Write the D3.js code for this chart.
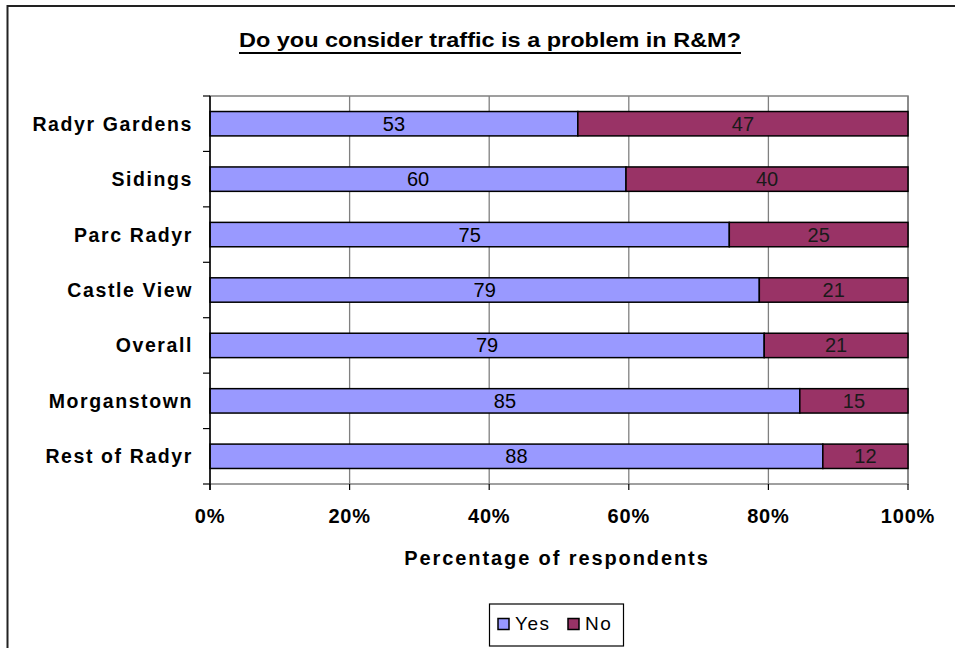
<!DOCTYPE html>
<html><head><meta charset="utf-8">
<script src="https://cdn.jsdelivr.net/npm/d3@7"></script>
<style>body{margin:0;background:#fff}svg{display:block}</style>
</head><body>
<script>
const categories = ["Radyr Gardens","Sidings","Parc Radyr","Castle View","Overall","Morganstown","Rest of Radyr"];
const yesValues = [52.7, 59.6, 74.4, 78.7, 79.4, 84.5, 87.8];
const noValues  = [47.3, 40.4, 25.6, 21.3, 20.6, 15.5, 12.2];
const yesLabels = [53, 60, 75, 79, 79, 85, 88];
const noLabels  = [47, 40, 25, 21, 21, 15, 12];
const xTicks = [0, 20, 40, 60, 80, 100];
const seriesNames = ["Yes","No"];
const colors = ["#9999FF","#993366"];

const W = 955, H = 648;
const svg = d3.select("body").append("svg").attr("width", W).attr("height", H);
svg.append("rect").attr("width", W).attr("height", H).attr("fill", "#fff");
// outer frame (extends past window on right/bottom)
svg.append("rect").attr("x", 7.5).attr("y", 6).attr("width", 960).attr("height", 660)
  .attr("fill","none").attr("stroke","#222").attr("stroke-width",2);

const font = "Arial, 'Liberation Sans', sans-serif";
const L = 210, R = 908, T = 96, B = 484;
const x = d3.scaleLinear().domain([0,100]).range([L,R]);
const y = d3.scaleBand().domain(categories).range([T,B]).paddingInner(0.56).paddingOuter(0.28);

// title
svg.append("text").attr("x", 239).attr("y", 47)
  .attr("font-family", font).attr("font-weight","bold").attr("font-size", 20.5)
  .attr("textLength", 502).attr("lengthAdjust","spacingAndGlyphs")
  .text("Do you consider traffic is a problem in R&M?");
svg.append("line").attr("x1",239).attr("x2",741).attr("y1",53).attr("y2",53)
  .attr("stroke","#000").attr("stroke-width",2);

// plot border (gray)
svg.append("rect").attr("x", L).attr("y", T).attr("width", R-L).attr("height", B-T)
  .attr("fill","none").attr("stroke","#808080").attr("stroke-width",1.5);

// gridlines
svg.append("g").selectAll("line").data(xTicks.slice(1)).join("line")
  .attr("x1", d=>x(d)).attr("x2", d=>x(d)).attr("y1", T).attr("y2", B)
  .attr("stroke","#808080").attr("stroke-width",1.3);

// bars
const stack = categories.map((c,i)=>({c, vals:[yesValues[i], noValues[i]], labs:[yesLabels[i], noLabels[i]]}));
const g = svg.append("g");
stack.forEach(d=>{
  let x0 = 0;
  d.vals.forEach((v,k)=>{
    g.append("rect").attr("x", x(x0)).attr("y", y(d.c)).attr("width", x(x0+v)-x(x0)).attr("height", y.bandwidth())
      .attr("fill", colors[k]).attr("stroke","#000").attr("stroke-width",1.5);
    g.append("text").attr("x", (x(x0)+x(x0+v))/2).attr("y", y(d.c)+y.bandwidth()/2+7)
      .attr("text-anchor","middle").attr("font-family",font).attr("font-size",20)
      .attr("fill", k===0 ? "#000" : "#1a1a1a").text(d.labs[k]);
    x0 += v;
  });
});

// y axis
const yAxis = svg.append("g").attr("transform",`translate(${L},0)`);
yAxis.append("line").attr("x1",0).attr("x2",0).attr("y1",T).attr("y2",B+6).attr("stroke","#000").attr("stroke-width",1.5);
const bounds = d3.range(categories.length+1).map(i=>T + i*(B-T)/categories.length);
yAxis.selectAll("line.tk").data(bounds).join("line").attr("class","tk")
  .attr("x1",-7).attr("x2",0).attr("y1",d=>d).attr("y2",d=>d).attr("stroke","#000").attr("stroke-width",1.2);
yAxis.selectAll("text").data(categories).join("text")
  .attr("x",-17).attr("y",d=>y(d)+y.bandwidth()/2+7).attr("text-anchor","end")
  .attr("font-family",font).attr("font-weight","bold").attr("font-size",19.5).attr("letter-spacing",1.6)
  .attr("fill","#000").text(d=>d);

// x ticks
const xAxis = svg.append("g");
xAxis.selectAll("line").data(xTicks).join("line")
  .attr("x1",d=>x(d)).attr("x2",d=>x(d)).attr("y1",B).attr("y2",B+6).attr("stroke","#000").attr("stroke-width",1.2);
xAxis.selectAll("text").data(xTicks).join("text")
  .attr("x",d=>x(d)).attr("y",B+39).attr("text-anchor","middle")
  .attr("font-family",font).attr("font-weight","bold").attr("font-size",20).attr("letter-spacing",0.8).text(d=>d+"%");

svg.append("text").attr("x", 557).attr("y", 565).attr("text-anchor","middle")
  .attr("font-family",font).attr("font-weight","bold").attr("font-size",20).attr("letter-spacing",1.9)
  .text("Percentage of respondents");

// legend
const lg = svg.append("g");
lg.append("rect").attr("x",489.5).attr("y",604).attr("width",134).attr("height",42)
  .attr("fill","#fff").attr("stroke","#000").attr("stroke-width",1.2);
const items = [{n:seriesNames[0],c:colors[0],x:498},{n:seriesNames[1],c:colors[1],x:568}];
items.forEach(it=>{
  lg.append("rect").attr("x",it.x).attr("y",618.5).attr("width",11).attr("height",11)
    .attr("fill",it.c).attr("stroke","#000").attr("stroke-width",1.5);
  lg.append("text").attr("x",it.x+17).attr("y",630).attr("font-family",font).attr("font-size",19)
    .attr("letter-spacing",1.5).text(it.n);
});
</script>
</body></html>
